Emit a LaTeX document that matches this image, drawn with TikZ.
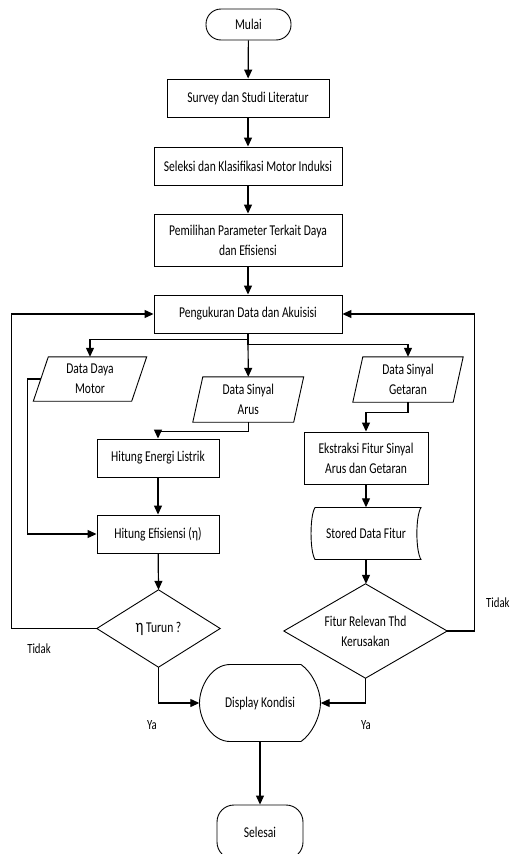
\documentclass[tikz,border=0pt]{standalone}
\usepackage{fontspec}
\setmainfont[FakeStretch=0.77]{Carlito}
\usetikzlibrary{arrows.meta,calc}
\begin{document}
\begin{tikzpicture}[x=1pt,y=-1pt,
  every node/.style={font=\fontsize{15}{20}\selectfont, align=center, inner sep=0pt},
  shp/.style={draw, line width=0.9pt},
  box/.style={shp, rectangle},
  ghost/.style={rectangle},
  term/.style={shp, rectangle, rounded corners=15pt},
  lbl/.style={font=\fontsize{14}{16}\selectfont},
  arr/.style={line width=1.2pt, -{Triangle[length=9pt,width=8pt]}},
  ln/.style={line width=1.2pt}]
\clip (0,0) rectangle (509,854);
\fill[white] (0,0) rectangle (509,854);

% terminals and process boxes
\node[term, minimum width=85pt, minimum height=31pt] (mulai) at (248.5,24.5) {Mulai};
\node[box, minimum width=162pt, minimum height=38pt] (survey) at (248,98) {Survey dan Studi Literatur};
\node[box, minimum width=188pt, minimum height=38pt] (seleksi) at (248,166) {Seleksi dan Klasifikasi Motor Induksi};
\node[box, minimum width=188pt, minimum height=52pt] (pemilihan) at (248,240) {Pemilihan Parameter Terkait Daya\\dan Efisiensi};
\node[box, minimum width=188pt, minimum height=38pt] (ukur) at (248,314) {Pengukuran Data dan Akuisisi};

% data (parallelograms)
\node[ghost, minimum width=98pt, minimum height=44pt] (daya) at (90,379) {Data Daya\\Motor};
\draw[shp] ([xshift=7.5pt]daya.north west) -- ([xshift=7.5pt]daya.north east) -- ([xshift=-7.5pt]daya.south east) -- ([xshift=-7.5pt]daya.south west) -- cycle;
\node[ghost, minimum width=100.5pt, minimum height=45pt] (arus) at (248.25,399.5) {Data Sinyal\\Arus};
\draw[shp] ([xshift=5pt]arus.north west) -- ([xshift=5pt]arus.north east) -- ([xshift=-5pt]arus.south east) -- ([xshift=-5pt]arus.south west) -- cycle;
\node[ghost, minimum width=100pt, minimum height=45pt] (getaran) at (408,379.5) {Data Sinyal\\Getaran};
\draw[shp] ([xshift=5pt]getaran.north west) -- ([xshift=5pt]getaran.north east) -- ([xshift=-5pt]getaran.south east) -- ([xshift=-5pt]getaran.south west) -- cycle;

\node[box, minimum width=122pt, minimum height=38pt] (energi) at (158,458) {Hitung Energi Listrik};
\node[box, minimum width=122pt, minimum height=38pt] (efisiensi) at (158,534) {Hitung Efisiensi (η)};
\node[box, minimum width=124pt, minimum height=52pt] (ekstraksi) at (366,458) {Ekstraksi Fitur Sinyal\\Arus dan Getaran};

% stored data
\node[ghost, minimum width=106pt, minimum height=52pt] (stored) at (366,533.5) {Stored Data Fitur};
\draw[shp] (315,507.5) -- (421,507.5) .. controls (415.5,516) and (415.5,551) .. (421,559.5) -- (315,559.5) .. controls (309.7,551) and (309.7,516) .. (315,507.5) -- cycle;

% decisions
\node[ghost, minimum width=123pt, minimum height=77pt] (turun) at (158.5,628.5) {{\fontsize{19}{20}\selectfont η} Turun ?};
\draw[shp] (turun.north) -- (turun.east) -- (turun.south) -- (turun.west) -- cycle;
\node[ghost, minimum width=163pt, minimum height=94pt] (fitur) at (365.5,631) {Fitur Relevan Thd\\Kerusakan};
\draw[shp] (fitur.north) -- (fitur.east) -- (fitur.south) -- (fitur.west) -- cycle;

% display
\node[ghost, minimum width=121pt, minimum height=77pt] (display) at (260,703) {Display Kondisi};
\draw[shp] (230,664.5) -- (301,664.5) .. controls (312,672) and (320.5,690) .. (320.5,703) .. controls (320.5,716) and (312,734) .. (301,741.5) -- (230,741.5) .. controls (212,741.5) and (199.5,720) .. (199.5,703) .. controls (199.5,686) and (212,664.5) .. (230,664.5) -- cycle;

\node[term, minimum width=86pt, minimum height=54pt, rounded corners=17pt] (selesai) at (260,832) {Selesai};

% connectors
\draw[arr] (mulai) -- (survey);
\draw[arr] (survey) -- (seleksi);
\draw[arr] (seleksi) -- (pemilihan);
\draw[arr] (pemilihan) -- (ukur);
\draw[arr] (ukur.south) -- (arus.north);
\draw[arr] (ukur.south) -- ++(0,6) -| (daya.north);
\draw[arr] (ukur.south) -- ++(0,11) -| (getaran.north);
\draw[arr] (arus.south) -- ++(0,9) -| (energi.north);
\draw[arr] (getaran.south) -- ++(0,10) -| (ekstraksi.north);
\draw[arr] (daya.west) -- ++(-13,0) |- (efisiensi.west);
\draw[arr] (energi) -- (efisiensi);
\draw[arr] (efisiensi) -- (turun.north);
\draw[arr] (turun.west) -- ++(-85,0) |- (ukur.west);
\draw[arr] (turun.south) |- (display.west);
\draw[arr] (ekstraksi) -- (stored);
\draw[arr] (stored.south) -- (stored.south |- fitur.north);
\draw[arr] (fitur.east) -- ++(27,0) |- (ukur.east);
\draw[arr] (fitur.south) |- (display.east);
\draw[arr] (display.south) -- (selesai.north);

% labels
\node[lbl] (tidak1) at (39,649) {Tidak};
\node[lbl] (ya1) at (152,725) {Ya};
\node[lbl] (ya2) at (366,725) {Ya};
\node[lbl, anchor=west] (tidak2) at (486,603) {Tidak};
\end{tikzpicture}
\end{document}
